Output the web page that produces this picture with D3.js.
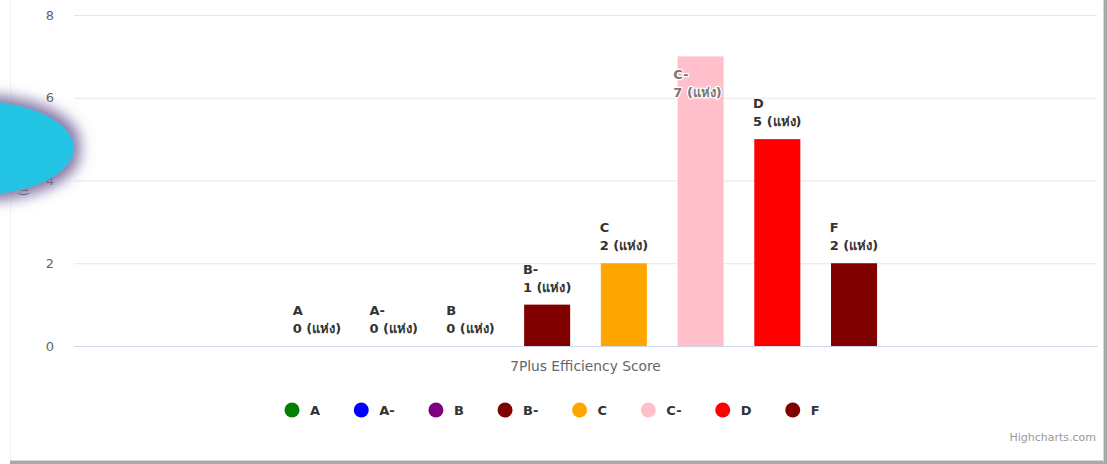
<!DOCTYPE html>
<html><head><meta charset="utf-8">
<script src="https://cdn.jsdelivr.net/npm/d3@7/dist/d3.min.js"></script>
<style>
html,body{margin:0;padding:0;background:#fff;overflow:hidden}
svg{display:block;font-family:"DejaVu Sans","Noto Sans",sans-serif}
</style></head><body>
<svg id="c" width="1107" height="464"></svg>
<script>
const categories = ["7Plus Efficiency Score"];
const seriesNames = ["A","A-","B","B-","C","C-","D","F"];
const seriesValues = [0,0,0,1,2,7,5,2];
const seriesColors = ["#008000","#0000ff","#800080","#800000","#ffa500","#ffc0cb","#ff0000","#800000"];
const yTicks = [0,2,4,6,8];
const unitLabel = "(แห่ง)";
const yTitle = "(แห่ง)";

const svg = d3.select("#c");
const W = 1107, H = 464;
const m = {left:74, right:1097, top:15, bottom:346};
const FF = "DejaVu Sans";

// card
svg.append("rect").attr("x",0).attr("y",0).attr("width",W).attr("height",H).attr("fill","#fff");
svg.append("line").attr("x1",10.5).attr("x2",10.5).attr("y1",0).attr("y2",462).attr("stroke","#f2f2f2");
svg.append("rect").attr("x",1104).attr("y",0).attr("width",3).attr("height",464).attr("fill","#a8a8a8");
svg.append("rect").attr("x",10).attr("y",461).attr("width",1097).attr("height",3).attr("fill","#a8a8a8");
svg.append("rect").attr("x",1103).attr("y",0).attr("width",1).attr("height",462).attr("fill","#d8d8d8");
svg.append("rect").attr("x",10).attr("y",460).attr("width",1094).attr("height",1).attr("fill","#d8d8d8");

const y = d3.scaleLinear().domain([0,8]).range([m.bottom,m.top]);
const x0 = d3.scaleBand().domain(categories).range([m.left,m.right]).paddingInner(0).paddingOuter(0);
const x1 = d3.scaleBand().domain(seriesNames).range([0,x0.bandwidth()*0.6]).paddingInner(0.4).paddingOuter(0.2);
const groupStart = x0(categories[0]) + x0.bandwidth()*0.2;

// grid
const yAxis = d3.axisLeft(y).tickValues(yTicks).tickSize(-(m.right-m.left)).tickPadding(20);
const gy = svg.append("g").attr("transform",`translate(${m.left},0)`).call(yAxis);
gy.select(".domain").remove();
gy.selectAll(".tick line").attr("stroke","#e6e6e6");
gy.selectAll(".tick text").attr("fill","#666").attr("font-size","13px").attr("font-family",FF);
gy.selectAll(".tick").filter(d=>d===0).select("line").attr("stroke","none");

// x axis
const xAxis = d3.axisBottom(x0).tickSize(0).tickPadding(15);
const gx = svg.append("g").attr("transform",`translate(0,${m.bottom})`).call(xAxis);
gx.select(".domain").attr("stroke","#ccd6eb");
gx.selectAll(".tick text").attr("fill","#666").attr("font-size","13.8px").attr("font-family",FF);

// bars
const data = seriesNames.map((n,i)=>({name:n,value:seriesValues[i],color:seriesColors[i]}));
svg.append("g").selectAll("rect").data(data).join("rect")
  .attr("x",d=>groupStart + x1(d.name))
  .attr("width",x1.bandwidth())
  .attr("y",d=>y(d.value))
  .attr("height",d=>y(0)-y(d.value))
  .attr("fill",d=>d.color);

// data labels
const lg = svg.append("g");
data.forEach(d=>{
  const cx = groupStart + x1(d.name) + x1.bandwidth()/2;
  const by = y(d.value);
  const inside = (by - 44 < m.top);
  const l2 = inside ? by + 41 : by - 13;
  const t = lg.append("text").attr("font-size","13px").attr("font-weight","bold").attr("font-family",FF)
    .attr("fill", inside ? "#777" : "#333")
    .attr("stroke","#fff").attr("stroke-width", inside ? 2.5 : 0).attr("paint-order","stroke")
    .attr("stroke-linejoin","round");
  t.append("tspan").attr("x",0).attr("y",l2-18).text(d.name);
  t.append("tspan").attr("x",0).attr("y",l2).text(d.value+" "+unitLabel);
  const w = t.node().getBBox().width;
  t.attr("transform",`translate(${cx - w/2 - (inside?3:0)},0)`);
});

// y title (mostly hidden)
svg.append("text").attr("transform",`translate(28,${(m.top+m.bottom)/2}) rotate(-90)`)
  .attr("text-anchor","middle").attr("font-size","12px").attr("fill","#666").text(yTitle);

// legend
const leg = svg.append("g");
let lx = 0;
data.forEach(d=>{
  const g = leg.append("g");
  g.append("circle").attr("cx",0).attr("cy",0).attr("r",7.5).attr("fill",d.color);
  const t = g.append("text").attr("x",18).attr("y",5).attr("font-size","13px").attr("font-weight","bold").attr("font-family",FF).attr("fill","#333").text(d.name);
  const w = t.node().getComputedTextLength();
  g.attr("transform",`translate(${lx},410)`);
  lx += w + 59.2;
});
leg.attr("transform",`translate(292,0)`);

// credits
svg.append("text").attr("x",1096).attr("y",441).attr("text-anchor","end").attr("font-size","11px").attr("font-family",FF).attr("fill","#999").text("Highcharts.com");

// overlay ellipse with glow
const defs = svg.append("defs");
const f = defs.append("filter").attr("id","glow").attr("x","-50%").attr("y","-60%").attr("width","200%").attr("height","220%");
f.append("feMorphology").attr("in","SourceAlpha").attr("operator","dilate").attr("radius",6).attr("result","d");
f.append("feGaussianBlur").attr("in","d").attr("stdDeviation",7).attr("result","b");
f.append("feFlood").attr("flood-color","#76699f").attr("flood-opacity",0.9);
f.append("feComposite").attr("in2","b").attr("operator","in").attr("result","s");
const mg = f.append("feMerge"); mg.append("feMergeNode").attr("in","s"); mg.append("feMergeNode").attr("in","SourceGraphic");
svg.append("ellipse").attr("cx",-32).attr("cy",148).attr("rx",106).attr("ry",48).attr("fill","#22c3e3").attr("filter","url(#glow)");
</script></body></html>
